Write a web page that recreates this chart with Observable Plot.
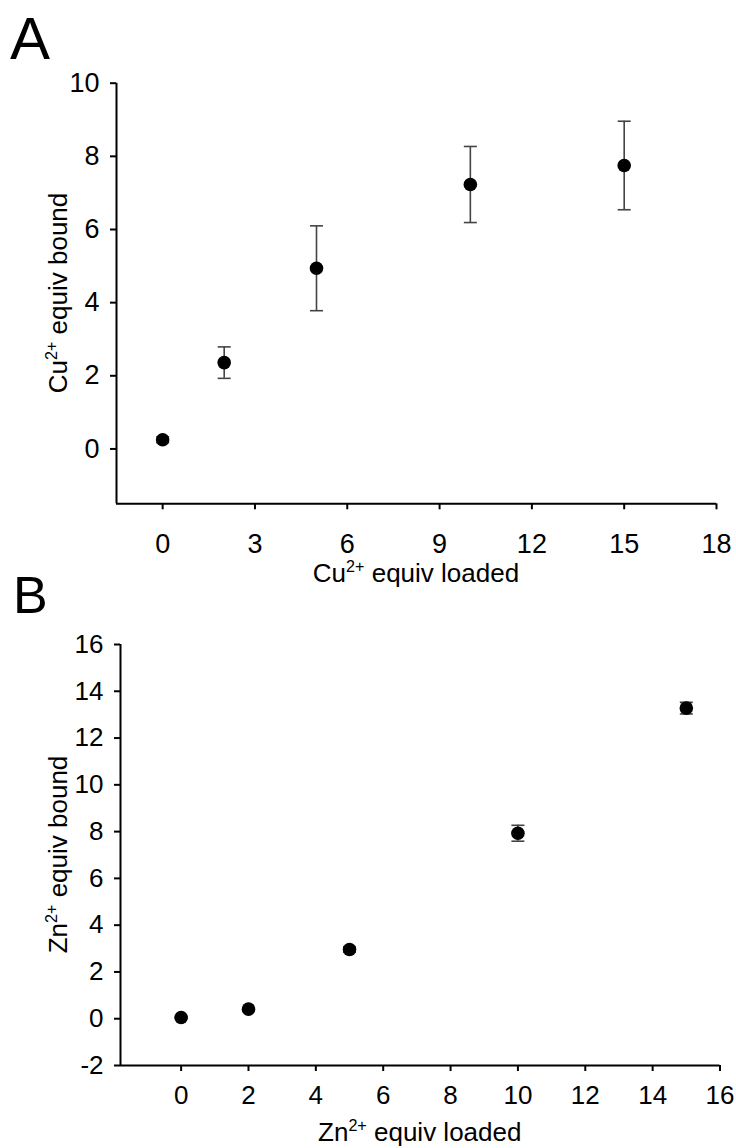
<!DOCTYPE html>
<html>
<head>
<meta charset="utf-8">
<script src="https://cdn.jsdelivr.net/npm/d3@7"></script>
<script src="https://cdn.jsdelivr.net/npm/@observablehq/plot@0.6"></script>
<style>
  body { margin: 0; background: #fff; }
  #fig { width: 736px; }
  #fig svg { display: block; }
</style>
</head>
<body>
<div id="fig"></div>
<script>
// ---- Panel A: Cu2+ ----
const cuLoaded = [0, 2, 5, 10, 15];
const cuBound  = [0.25, 2.36, 4.94, 7.23, 7.75];
const cuErr    = [0.08, 0.43, 1.16, 1.04, 1.21];
const cuXTicks = [0, 3, 6, 9, 12, 15, 18];
const cuYTicks = [0, 2, 4, 6, 8, 10];
const cuXDomain = [-1.5, 18];
const cuYDomain = [-1.5, 10];

// ---- Panel B: Zn2+ ----
const znLoaded = [0, 2, 5, 10, 15];
const znBound  = [0.05, 0.41, 2.96, 7.93, 13.28];
const znErr    = [0.04, 0.06, 0.12, 0.34, 0.25];
const znXTicks = [0, 2, 4, 6, 8, 10, 12, 14, 16];
const znYTicks = [-2, 0, 2, 4, 6, 8, 10, 12, 14, 16];
const znXDomain = [-1.8, 16];
const znYDomain = [-2, 16];

const FONT = "'Liberation Sans', Arial, Helvetica, sans-serif";

const capSymbol = {
  draw(context, size) {
    const w = Math.sqrt(size / Math.PI);
    context.moveTo(-w, 0);
    context.lineTo(w, 0);
  }
};

function panel(cfg) {
  const data = cfg.x.map((x, i) => ({x, y: cfg.y[i], lo: cfg.y[i] - cfg.e[i], hi: cfg.y[i] + cfg.e[i]}));
  const chart = Plot.plot({
    width: 736,
    height: cfg.height,
    marginTop: cfg.mt,
    marginBottom: cfg.mb,
    marginLeft: cfg.ml,
    marginRight: cfg.mr,
    style: {fontFamily: FONT, fontSize: cfg.fs + "px", color: "#000", background: "#fff", overflow: "visible"},
    x: {domain: cfg.xd},
    y: {domain: cfg.yd},
    marks: [
      Plot.axisX({ticks: cfg.xt, tickFormat: d => String(d), tickSize: 6, tickPadding: cfg.xpad, strokeWidth: 2, fontSize: cfg.fs, label: null}),
      Plot.axisY({ticks: cfg.yt, tickFormat: d => String(d), tickSize: 6, tickPadding: 11, strokeWidth: 2, fontSize: cfg.fs, label: null}),
      Plot.ruleX([cfg.xd[0]], {stroke: "#000", strokeWidth: 2}),
      Plot.ruleY([cfg.yd[0]], {stroke: "#000", strokeWidth: 2}),
      Plot.ruleX(data, {x: "x", y1: "lo", y2: "hi", stroke: "#444", strokeWidth: 1.6}),
      Plot.dot(data, {x: "x", y: "hi", symbol: capSymbol, r: 6.5, stroke: "#444", strokeWidth: 1.6, fill: "none"}),
      Plot.dot(data, {x: "x", y: "lo", symbol: capSymbol, r: 6.5, stroke: "#444", strokeWidth: 1.6, fill: "none"}),
      Plot.dot(data, {x: "x", y: "y", r: 6.8, fill: "#000", stroke: "none"})
    ]
  });

  const svg = d3.select(chart);
  const xr = chart.scale("x").range;
  const yr = chart.scale("y").range;
  const cx = (xr[0] + xr[1]) / 2;
  const cy = (yr[0] + yr[1]) / 2;

  function richLabel(sel, base, rest) {
    sel.append("tspan").text(base);
    sel.append("tspan").attr("font-size", "0.62em").attr("baseline-shift", "0.62em").text("2+");
    sel.append("tspan").text(rest);
  }

  const xl = svg.append("text")
    .attr("x", cx).attr("y", cfg.xLabelY)
    .attr("text-anchor", "middle")
    .attr("font-family", FONT).attr("font-size", cfg.lfs).attr("fill", "#000");
  richLabel(xl, cfg.ion, " equiv loaded");

  const yl = svg.append("text")
    .attr("transform", `translate(${cfg.yLabelX},${cy}) rotate(-90)`)
    .attr("text-anchor", "middle")
    .attr("font-family", FONT).attr("font-size", cfg.lfs).attr("fill", "#000");
  richLabel(yl, cfg.ion, " equiv bound");

  svg.append("text")
    .attr("x", cfg.letterX).attr("y", cfg.letterY)
    .attr("text-anchor", "start")
    .attr("font-family", FONT).attr("font-size", cfg.letterFs).attr("fill", "#000")
    .text(cfg.letter);

  return chart;
}

const fig = document.getElementById("fig");
fig.appendChild(panel({
  x: cuLoaded, y: cuBound, e: cuErr, xt: cuXTicks, yt: cuYTicks, xd: cuXDomain, yd: cuYDomain,
  height: 590, mt: 82.7, mb: 86.7, ml: 116, mr: 20, fs: 27, lfs: 26, xpad: 24,
  ion: "Cu", xLabelY: 582, yLabelX: 67, letter: "A", letterX: 10, letterY: 59, letterFs: 60
}));
fig.appendChild(panel({
  x: znLoaded, y: znBound, e: znErr, xt: znXTicks, yt: znYTicks, xd: znXDomain, yd: znYDomain,
  height: 558, mt: 54, mb: 83, ml: 120, mr: 16.5, fs: 26, lfs: 26, xpad: 14,
  ion: "Zn", xLabelY: 551, yLabelX: 67, letter: "B", letterX: 13, letterY: 22.5, letterFs: 52
}));
</script>
</body>
</html>
